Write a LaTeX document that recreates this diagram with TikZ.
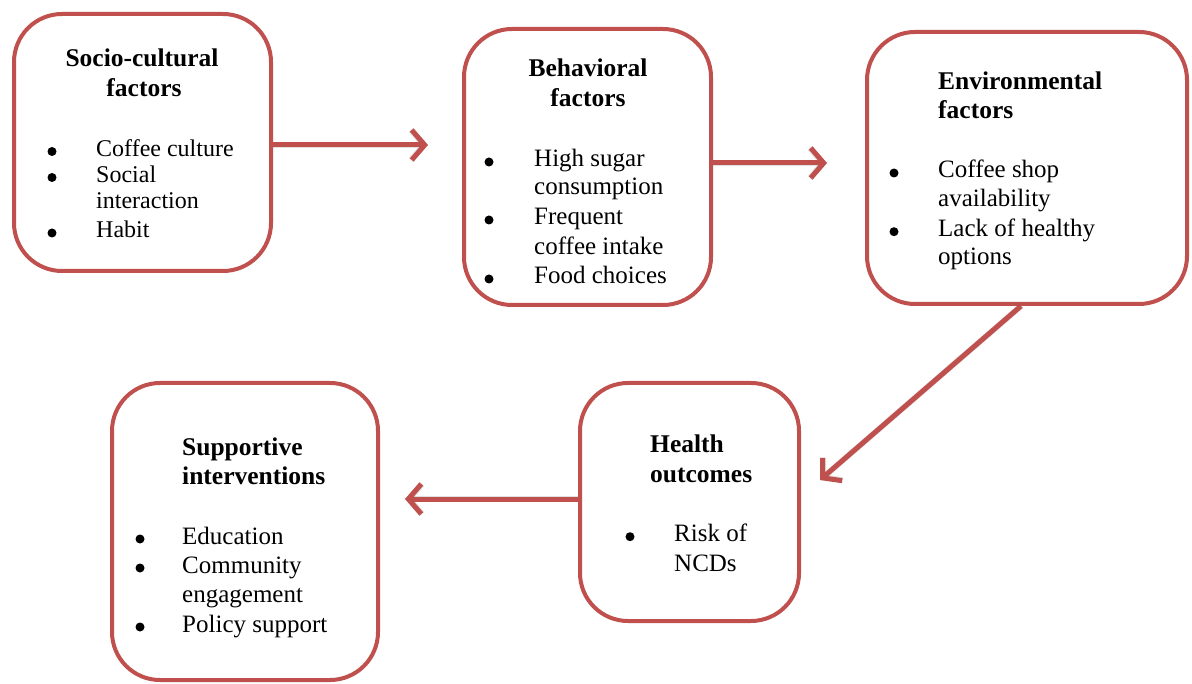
\documentclass[tikz,border=0pt]{standalone}
\usepackage{fontspec}
\setmainfont{Liberation Serif}
\usetikzlibrary{arrows.meta,calc}
\definecolor{boxred}{RGB}{192,80,77}
\begin{document}
\begin{tikzpicture}[x=1pt,y=-1pt,
  box/.style={draw=boxred,line width=4pt,rounded corners=48pt,fill=white,inner sep=0pt},
  ttl/.style={font=\fontsize{25.5}{29}\selectfont\bfseries,inner sep=0pt},
  itm/.style={font=\fontsize{25}{29}\selectfont,inner sep=0pt,anchor=base west},
  itma/.style={font=\fontsize{24}{29}\selectfont,inner sep=0pt,anchor=base west},
  bul/.style={fill=black,circle,inner sep=0pt,minimum size=9pt},
  conn/.style={draw=boxred,line width=5pt,-{Straight Barb[length=13pt,width=30pt,line width=5pt]}},
  shd/.style={draw=black,opacity=0.12,line width=6pt,-{Straight Barb[length=13pt,width=30pt,line width=6pt]}}
]
\useasboundingbox (0,0) rectangle (1192,684);
% boxes
\node[box,minimum width=257pt,minimum height=257pt] (b1) at (142.5,142.5) {};
\node[box,minimum width=247pt,minimum height=276pt] (b2) at (587.5,167) {};
\node[box,minimum width=320pt,minimum height=272pt] (b3) at (1027,168) {};
\node[box,minimum width=266pt,minimum height=297pt] (b4) at (245,531.5) {};
\node[box,minimum width=219pt,minimum height=238pt] (b5) at (689.5,502) {};
% box 1
\node[ttl,anchor=base] (t1a) at (142,66.7) {Socio-cultural};
\node[ttl,anchor=base] (t1b) at (144,96.7) {factors};
\node[bul] (p1a) at (52,151.5) {};
\node[itma] (i1a) at (96,156.7) {Coffee culture};
\node[bul] (p1b) at (52,177.5) {};
\node[itma] (i1b) at (96,182.7) {Social};
\node[itma] (i1c) at (96,209) {interaction};
\node[bul] (p1c) at (52,233) {};
\node[itma] (i1d) at (96,238) {Habit};
% box 2
\node[ttl,anchor=base] (t2a) at (588,77) {Behavioral};
\node[ttl,anchor=base] (t2b) at (588,107) {factors};
\node[bul] (p2a) at (489,162) {};
\node[itm] (i2a) at (534,167) {High sugar};
\node[itm] (i2b) at (534,195) {consumption};
\node[bul] (p2b) at (489,220) {};
\node[itm] (i2c) at (534,225) {Frequent};
\node[itm] (i2d) at (534,255) {coffee intake};
\node[bul] (p2c) at (489,279) {};
\node[itm] (i2e) at (534,284) {Food choices};
% box 3
\node[ttl,anchor=base west] (t3a) at (938,89.3) {Environmental};
\node[ttl,anchor=base west] (t3b) at (938,119) {factors};
\node[bul] (p3a) at (894,173) {};
\node[itm] (i3a) at (938,178) {Coffee shop};
\node[itm] (i3b) at (938,206.7) {availability};
\node[bul] (p3b) at (894,231.7) {};
\node[itm] (i3c) at (938,236.7) {Lack of healthy};
\node[itm] (i3d) at (938,265) {options};
% box 4
\node[ttl,anchor=base west] (t4a) at (182,456) {Supportive};
\node[ttl,anchor=base west] (t4b) at (182,485) {interventions};
\node[bul] (p4a) at (140,539) {};
\node[itm] (i4a) at (182,544) {Education};
\node[bul] (p4b) at (140,568) {};
\node[itm] (i4b) at (182,573) {Community};
\node[itm] (i4c) at (182,602) {engagement};
\node[bul] (p4c) at (140,627) {};
\node[itm] (i4d) at (182,632) {Policy support};
% box 5
\node[ttl,anchor=base west] (t5a) at (650,453) {Health};
\node[ttl,anchor=base west] (t5b) at (650,482.7) {outcomes};
\node[bul] (p5a) at (630,536.7) {};
\node[itm] (i5a) at (674,541.7) {Risk of};
\node[itm] (i5b) at (674,571.7) {NCDs};
% connectors
\coordinate (s1) at ($(b1.east)+(0,2.5)$);
\coordinate (e1) at ($(b2.west)+(-34,-22)$);
\coordinate (s2) at ($(b2.east)+(0,-4)$);
\coordinate (e2) at ($(b3.west)+(-38,-5)$);
\coordinate (s3) at ($(b3.south)+(-6,0)$);
\coordinate (e3) at ($(b5.east)+(19,-22)$);
\coordinate (s4) at ($(b5.west)+(0,-3)$);
\coordinate (e4) at ($(b4.east)+(25,-32.5)$);
\begin{scope}[shift={(2,3)}]
\draw[shd] (s1) -- (e1);
\draw[shd] (s2) -- (e2);
\draw[shd] (s3) -- (e3);
\draw[shd] (s4) -- (e4);
\end{scope}
\draw[conn] (s1) -- (e1);
\draw[conn] (s2) -- (e2);
\draw[conn] (s3) -- (e3);
\draw[conn] (s4) -- (e4);
\end{tikzpicture}
\end{document}
